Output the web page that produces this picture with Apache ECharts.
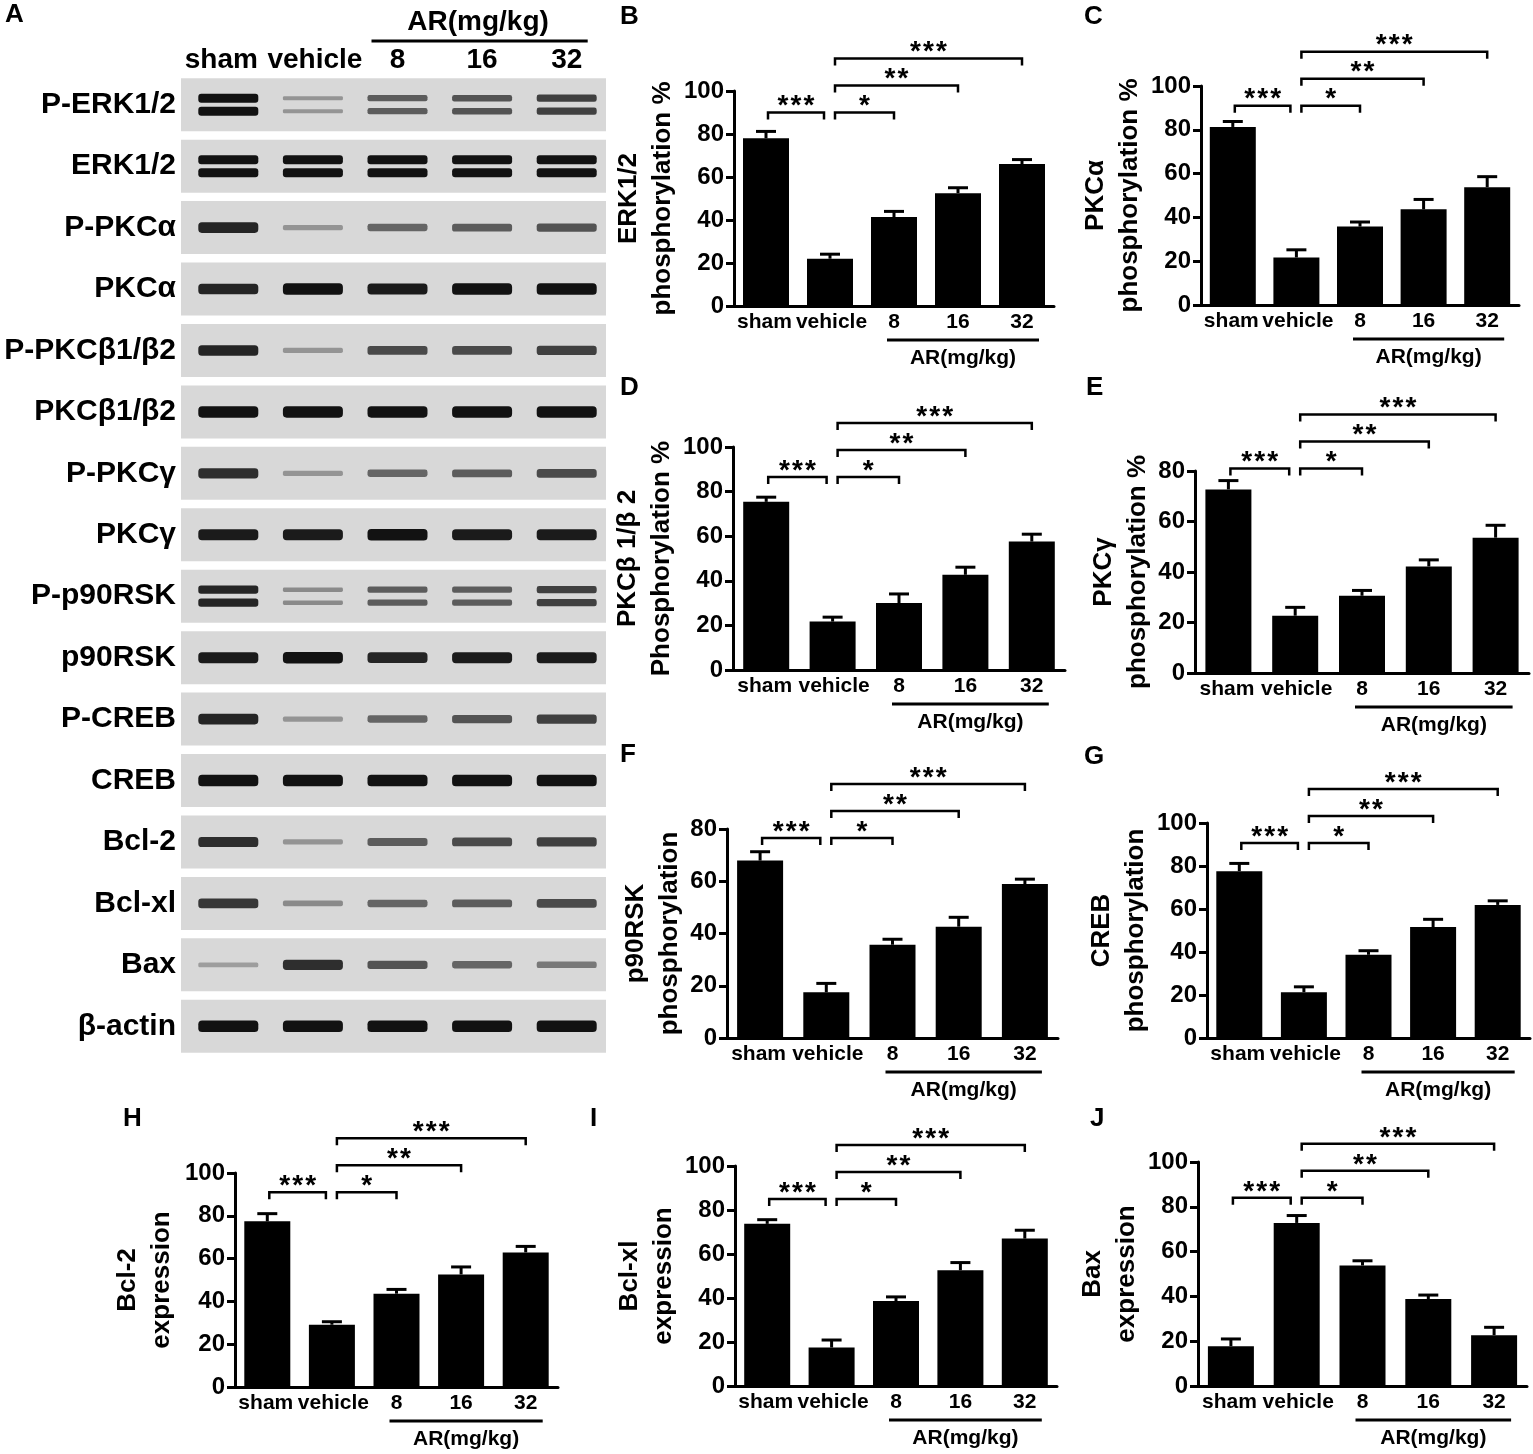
<!DOCTYPE html>
<html>
<head>
<meta charset="utf-8">
<script src="https://cdn.jsdelivr.net/npm/echarts@6/dist/echarts.min.js"></script>
<style>
html, body { margin: 0; padding: 0; background: #fff; }
#main { width: 1533px; height: 1454px; }
</style>
</head>
<body>
<div id="main"></div>
<script>
var FONT = 'Liberation Sans, Arial, sans-serif';

// groups on every x axis
var groups = ['sham', 'vehicle', '8', '16', '32'];

// mean and SEM
var erkMean = [78, 22, 41.4, 52.5, 66];
var erkSem = [3.2, 2.1, 2.6, 2.5, 2.1];
var pkcaMean = [81.3, 21.7, 35.8, 43.7, 53.8];
var pkcaSem = [2.5, 3.5, 2.1, 4.5, 4.8];
var pkcbMean = [75.4, 21.7, 30, 42.7, 57.6];
var pkcbSem = [2.1, 2.0, 4.1, 3.4, 3.3];
var pkcgMean = [72.7, 22.7, 30.6, 42.2, 53.6];
var pkcgSem = [3.5, 3.3, 2.1, 2.6, 4.9];
var rskMean = [67.9, 17.5, 35.7, 42.6, 58.9];
var rskSem = [3.4, 3.4, 2.1, 3.6, 1.9];
var crebMean = [77.6, 21.3, 38.7, 51.6, 61.9];
var crebSem = [3.6, 2.5, 1.9, 3.6, 1.9];
var bcl2Mean = [77.4, 29.1, 43.6, 52.6, 62.9];
var bcl2Sem = [3.6, 1.4, 2.0, 3.5, 2.8];
var bclxlMean = [73.7, 17.5, 38.6, 52.6, 67];
var bclxlSem = [1.9, 3.4, 1.9, 3.5, 3.8];
var baxMean = [17.8, 72.8, 53.8, 38.8, 22.7];
var baxSem = [3.2, 3.3, 2.1, 1.8, 3.5];

// significance brackets: [from group, to group, stack level, number of stars]
var comparisons = [[0, 1, 0, 3], [1, 2, 0, 1], [1, 3, 1, 2], [1, 4, 2, 3]];

// western blot rows (panel A), band strength 0..1 per lane
var blotRows = ['P-ERK1/2', 'ERK1/2', 'P-PKCα', 'PKCα', 'P-PKCβ1/β2', 'PKCβ1/β2', 'P-PKCγ', 'PKCγ',
  'P-p90RSK', 'p90RSK', 'P-CREB', 'CREB', 'Bcl-2', 'Bcl-xl', 'Bax', 'β-actin'];
var blotDouble = [1, 1, 0, 0, 0, 0, 0, 0, 1, 0, 0, 0, 0, 0, 0, 0];
var blotStrength = [
  [1.0, 0.3, 0.6, 0.65, 0.75],
  [1, 1, 1, 1, 1],
  [0.9, 0.3, 0.55, 0.6, 0.65],
  [0.9, 1, 0.95, 1, 1],
  [0.9, 0.3, 0.7, 0.7, 0.75],
  [1, 1, 1, 1, 1],
  [0.85, 0.3, 0.55, 0.6, 0.7],
  [0.95, 0.95, 1, 0.95, 0.95],
  [0.9, 0.35, 0.6, 0.6, 0.75],
  [0.95, 1, 0.9, 0.95, 0.95],
  [0.9, 0.3, 0.55, 0.65, 0.75],
  [1, 1, 1, 1, 1],
  [0.85, 0.3, 0.6, 0.7, 0.75],
  [0.8, 0.35, 0.55, 0.6, 0.7],
  [0.25, 0.85, 0.65, 0.55, 0.45],
  [1, 1, 1, 1, 1]
];

var panels = [
  { letter: 'B', name: 'ERK1/2\nphosphorylation %', mean: erkMean, sem: erkSem, max: 100, base: 90,
    box: [734, 91, 320, 215], gap: 51, lab: [620, 4] },
  { letter: 'C', name: 'PKCα\nphosphorylation %', mean: pkcaMean, sem: pkcaSem, max: 100, base: 91,
    box: [1201, 86, 318, 219], gap: 53, lab: [1084, 4] },
  { letter: 'D', name: 'PKCβ 1/β 2\nPhosphorylation %', mean: pkcbMean, sem: pkcbSem, max: 100, base: 86.5,
    box: [733, 447, 332, 223], gap: 44, lab: [620, 375] },
  { letter: 'E', name: 'PKCγ\nphosphorylation %', mean: pkcgMean, sem: pkcgSem, max: 80, base: 81,
    box: [1195, 471, 334, 202], gap: 39, lab: [1086, 375] },
  { letter: 'F', name: 'p90RSK\nphosphorylation', mean: rskMean, sem: rskSem, max: 80, base: 76.6,
    box: [727, 829, 331, 209], gap: 35, lab: [620, 742] },
  { letter: 'G', name: 'CREB\nphosphorylation', mean: crebMean, sem: crebSem, max: 100, base: 90.7,
    box: [1207, 823, 323, 215], gap: 48, lab: [1084, 744] },
  { letter: 'H', name: 'Bcl-2\nexpression', mean: bcl2Mean, sem: bcl2Sem, max: 100, base: 91,
    box: [235, 1173, 323, 214], gap: 56, lab: [123, 1106] },
  { letter: 'I', name: 'Bcl-xl\nexpression', mean: bclxlMean, sem: bclxlSem, max: 100, base: 85,
    box: [735, 1166, 322, 220], gap: 52, lab: [590, 1106] },
  { letter: 'J', name: 'Bax\nexpression', mean: baxMean, sem: baxSem, max: 100, base: 84,
    box: [1198, 1162, 329, 224], gap: 47, lab: [1090, 1106] }
];

function txt(x, y, s, size, align) {
  return { type: 'text', x: x, y: y, style: { text: s, fill: '#000', fontSize: size, fontWeight: 'bold',
    fontFamily: FONT, align: align || 'center', verticalAlign: 'middle' } };
}

// pushes "sham" and "vehicle" apart a little, as in the figure
function groupLabels(size, push) {
  var base = { fontSize: size, fontWeight: 'bold', color: '#000', fontFamily: FONT };
  return {
    formatter: function (v, i) {
      return i === 0 ? '{a|' + v + '}' : i === 1 ? '{b|' + v + '}' : v;
    },
    rich: {
      a: Object.assign({ padding: [0, push[0], 0, 0] }, base),
      b: Object.assign({ padding: [0, 0, 0, push[1]] }, base)
    }
  };
}

function rowBg(params, api) {
  var cs = params.coordSys;
  var c = api.coord([0, api.value(1)]);
  return { type: 'rect', shape: { x: cs.x - 5, y: c[1] - 26.5, width: cs.width + 2, height: 53 },
    style: { fill: '#d8d8d8' } };
}

function band(params, api) {
  var c = api.coord([api.value(0), api.value(1)]);
  var k = api.value(2);
  var g = Math.round(18 + (1 - k) * 185);
  var col = 'rgb(' + g + ',' + g + ',' + g + ')';
  var w = 60;
  if (api.value(3)) {
    var h2 = 2 + 7 * k;
    return { type: 'group', children: [-6.5, 6.5].map(function (o) {
      return { type: 'rect', shape: { x: c[0] - w / 2, y: c[1] + o - h2 / 2, width: w, height: h2, r: h2 / 3 },
        style: { fill: col } };
    }) };
  }
  var h = 2.5 + 9 * k;
  return { type: 'rect', shape: { x: c[0] - w / 2, y: c[1] - h / 2, width: w, height: h, r: h / 3 },
    style: { fill: col } };
}

function blotHeader(params, api) {
  var a = api.coord([api.value(0), 0]), b = api.coord([api.value(1), 0]);
  var y = params.coordSys.y - 33;
  return { type: 'group', children: [
    { type: 'line', shape: { x1: a[0] - 26, y1: y, x2: b[0] + 21, y2: y }, style: { stroke: '#000', lineWidth: 3 } },
    txt((a[0] + b[0]) / 2 - 4, y - 19, 'AR(mg/kg)', 28)
  ] };
}

function errBar(params, api) {
  var i = api.value(0), m = api.value(1), s = api.value(2);
  var a = api.coord([i, m]), b = api.coord([i, m + s]);
  return { type: 'group', children: [
    { type: 'line', shape: { x1: a[0], y1: a[1], x2: b[0], y2: b[1] }, style: { stroke: '#000', lineWidth: 3 } },
    { type: 'line', shape: { x1: b[0] - 10, y1: b[1], x2: b[0] + 10, y2: b[1] }, style: { stroke: '#000', lineWidth: 3 } }
  ] };
}

function makeBracket(base) {
  return function (params, api) {
    var from = api.value(0), to = api.value(1), lvl = api.value(2), n = api.value(3);
    var x1 = api.coord([from, 0])[0], x2 = api.coord([to, 0])[0];
    if (to === 1) { x1 += 2; x2 -= 6; }
    if (from === 1) { x1 += 5; }
    var y = api.coord([0, base])[1] - lvl * 27;
    var kids = [{ type: 'polyline', shape: { points: [[x1, y + 7], [x1, y], [x2, y], [x2, y + 7]] },
      style: { stroke: '#000', lineWidth: 2.5, fill: null } }];
    var mid = (x1 + x2) / 2;
    for (var k = 0; k < n; k++) {
      kids.push(txt(mid + (k - (n - 1) / 2) * 13, y - 6, '*', 28));
    }
    return { type: 'group', children: kids };
  };
}

function arLabel(params, api) {
  var a = api.coord([api.value(0), 0]), b = api.coord([api.value(1), 0]);
  var y = a[1] + 34;
  return { type: 'group', children: [
    { type: 'line', shape: { x1: a[0] - 7, y1: y, x2: b[0] + 17, y2: y }, style: { stroke: '#000', lineWidth: 3 } },
    txt((a[0] + b[0]) / 2 + 5, y + 18, 'AR(mg/kg)', 21)
  ] };
}

var grid = [], xAxis = [], yAxis = [], series = [], title = [];

// panel A: the blot
title.push({ text: 'A', left: 5, top: 2, padding: 0, textStyle: { fontSize: 26, fontWeight: 'bold', color: '#000', fontFamily: FONT } });
grid.push({ left: 186, top: 74, width: 423, height: 983 });
xAxis.push({ gridIndex: 0, type: 'category', position: 'top', data: groups,
  axisLine: { show: false }, axisTick: { show: false },
  axisLabel: Object.assign({ interval: 0, margin: 0, fontSize: 28, fontWeight: 'bold', color: '#000', fontFamily: FONT },
    groupLabels(28, [14, 4])) });
yAxis.push({ gridIndex: 0, type: 'category', inverse: true, data: blotRows,
  axisLine: { show: false }, axisTick: { show: false },
  axisLabel: { interval: 0, margin: 10, fontSize: 30, fontWeight: 'bold', color: '#000', fontFamily: FONT } });

var bandData = [];
blotStrength.forEach(function (row, r) {
  row.forEach(function (v, l) { bandData.push([l, r, v, blotDouble[r]]); });
});
series.push({ type: 'custom', xAxisIndex: 0, yAxisIndex: 0, silent: true, clip: false, z: 1,
  data: blotRows.map(function (n, r) { return [0, r]; }), renderItem: rowBg });
series.push({ type: 'custom', xAxisIndex: 0, yAxisIndex: 0, silent: true, clip: false, z: 2,
  data: bandData, renderItem: band });
series.push({ type: 'custom', xAxisIndex: 0, yAxisIndex: 0, silent: true, clip: false,
  data: [[2, 4]], renderItem: blotHeader });

// panels B-J
panels.forEach(function (p, k) {
  var gi = k + 1;
  title.push({ text: p.letter, left: p.lab[0], top: p.lab[1], padding: 0,
    textStyle: { fontSize: 26, fontWeight: 'bold', color: '#000', fontFamily: FONT } });
  grid.push({ left: p.box[0], top: p.box[1], width: p.box[2], height: p.box[3] });
  xAxis.push({ gridIndex: gi, type: 'category', data: groups,
    axisLine: { lineStyle: { color: '#000', width: 3 } },
    axisTick: { alignWithLabel: true, length: 8, lineStyle: { color: '#000', width: 3 } },
    axisLabel: Object.assign({ interval: 0, margin: 6, fontSize: 21, fontWeight: 'bold', color: '#000', fontFamily: FONT },
      groupLabels(21, [3, 3])) });
  yAxis.push({ gridIndex: gi, type: 'value', min: 0, max: p.max, interval: 20,
    name: p.name, nameLocation: 'middle', nameGap: p.gap,
    nameTextStyle: { fontSize: 26, fontWeight: 'bold', color: '#000', lineHeight: 34, fontFamily: FONT },
    axisLine: { show: true, lineStyle: { color: '#000', width: 3 } },
    axisTick: { show: true, length: 8, lineStyle: { color: '#000', width: 3 } },
    axisLabel: { margin: 10, fontSize: 24, fontWeight: 'bold', color: '#000', fontFamily: FONT },
    splitLine: { show: false } });
  series.push({ type: 'bar', xAxisIndex: gi, yAxisIndex: gi, data: p.mean, barWidth: 46,
    itemStyle: { color: '#000' }, silent: true });
  series.push({ type: 'custom', xAxisIndex: gi, yAxisIndex: gi, silent: true, clip: false, z: 3,
    data: p.mean.map(function (m, i) { return [i, m, p.sem[i]]; }), renderItem: errBar });
  series.push({ type: 'custom', xAxisIndex: gi, yAxisIndex: gi, silent: true, clip: false,
    data: comparisons, renderItem: makeBracket(p.base) });
  series.push({ type: 'custom', xAxisIndex: gi, yAxisIndex: gi, silent: true, clip: false,
    data: [[2, 4]], renderItem: arLabel });
});

var chart = echarts.init(document.getElementById('main'));
chart.setOption({
  animation: false,
  backgroundColor: '#fff',
  textStyle: { fontFamily: FONT },
  title: title,
  grid: grid,
  xAxis: xAxis,
  yAxis: yAxis,
  series: series
});
</script>
</body>
</html>
